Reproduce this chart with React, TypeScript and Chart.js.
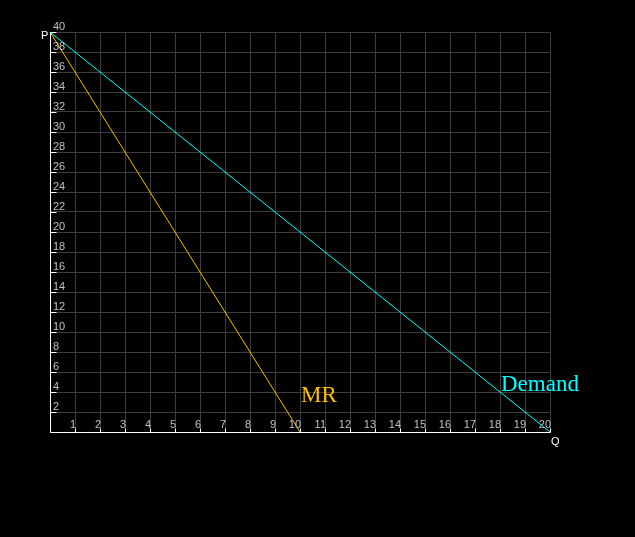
import React, { useEffect, useRef } from "react";
import { Chart, registerables } from "chart.js";

Chart.register(...registerables);

// Data
const demandQ = [0, 20];
const demandP = [40, 0];
const mrQ = [0, 10];
const mrP = [40, 0];
const xTickLabels = [1, 2, 3, 4, 5, 6, 7, 8, 9, 10, 11, 12, 13, 14, 15, 16, 17, 18, 19, 20];
const yTickLabels = [2, 4, 6, 8, 10, 12, 14, 16, 18, 20, 22, 24, 26, 28, 30, 32, 34, 36, 38, 40];
const curveNames = ["MR", "Demand"];

const W = 635;
const H = 537;
const TICK_FONT = '11px "Liberation Sans", Arial, sans-serif';
const NAME_FONT = '23px "Liberation Serif", "Times New Roman", serif';
const MR_COLOR = "#FFBF00";
const DEMAND_COLOR = "#00FFFF";
const GRID_COLOR = "#3c3c3c";

const overlay = {
  id: "overlay",
  beforeDraw(chart: any) {
    const { ctx } = chart;
    ctx.save();
    ctx.fillStyle = "#000";
    ctx.fillRect(0, 0, chart.width, chart.height);
    ctx.restore();
  },
  afterDraw(chart: any) {
    const { ctx } = chart;
    const xs = chart.scales.x;
    const ys = chart.scales.y;
    const x0 = Math.round(xs.getPixelForValue(0)) + 0.5;
    const y0 = Math.round(ys.getPixelForValue(0)) + 0.5;
    const top = Math.round(ys.getPixelForValue(40)) + 0.5;
    const right = Math.round(xs.getPixelForValue(20)) + 0.5;
    ctx.save();
    ctx.strokeStyle = "#FFFFFF";
    ctx.lineWidth = 1;
    ctx.beginPath();
    ctx.moveTo(x0, top);
    ctx.lineTo(x0, y0);
    ctx.lineTo(right, y0);
    ctx.stroke();
    // tick stubs
    ctx.beginPath();
    yTickLabels.forEach((v) => {
      const py = Math.round(ys.getPixelForValue(v)) + 0.5;
      ctx.moveTo(x0, py);
      ctx.lineTo(x0 + 6, py);
    });
    xTickLabels.forEach((v) => {
      const px = Math.round(xs.getPixelForValue(v)) + 0.5;
      ctx.moveTo(px, y0);
      ctx.lineTo(px, y0 - 4);
    });
    ctx.stroke();

    // tick labels
    ctx.font = TICK_FONT;
    ctx.fillStyle = "#C0C0C0";
    ctx.textBaseline = "alphabetic";
    ctx.textAlign = "left";
    yTickLabels.forEach((v) => {
      const py = Math.round(ys.getPixelForValue(v));
      ctx.fillText(String(v), x0 + 2.5, py - 2);
    });
    ctx.textAlign = "right";
    xTickLabels.forEach((v) => {
      const px = Math.round(xs.getPixelForValue(v));
      ctx.fillText(String(v), px + 1, y0 - 4.5);
    });

    // axis names
    ctx.fillStyle = "#FFFFFF";
    ctx.textAlign = "left";
    ctx.fillText("P", x0 - 9.5, top + 6.5);
    ctx.fillText("Q", right + 0.5, y0 + 12);

    // curve names
    ctx.font = NAME_FONT;
    ctx.fillStyle = MR_COLOR;
    ctx.fillText(curveNames[0], xs.getPixelForValue(10) + 1, ys.getPixelForValue(3));
    ctx.fillStyle = DEMAND_COLOR;
    ctx.fillText(curveNames[1], xs.getPixelForValue(18) + 1, ys.getPixelForValue(4.1));
    ctx.restore();
  },
};

export default function App() {
  const ref = useRef<HTMLCanvasElement | null>(null);
  useEffect(() => {
    document.body.style.margin = "0";
    document.body.style.background = "#000";
    if (!ref.current) return;
    const chart = new Chart(ref.current, {
      type: "line",
      data: {
        datasets: [
          {
            label: curveNames[1],
            data: demandQ.map((q, i) => ({ x: q, y: demandP[i] })),
            borderColor: DEMAND_COLOR,
            borderWidth: 1,
            pointRadius: 0,
            fill: false,
          },
          {
            label: curveNames[0],
            data: mrQ.map((q, i) => ({ x: q, y: mrP[i] })),
            borderColor: MR_COLOR,
            borderWidth: 1,
            pointRadius: 0,
            fill: false,
          },
        ],
      },
      options: {
        responsive: false,
        animation: false,
        layout: { padding: { left: 50, top: 32, right: W - 550, bottom: H - 432 } },
        plugins: { legend: { display: false }, tooltip: { enabled: false } },
        scales: {
          x: {
            type: "linear",
            min: 0,
            max: 20,
            ticks: { display: false, stepSize: 1 },
            grid: { color: GRID_COLOR, drawTicks: false, lineWidth: 1 },
            border: { display: false },
          },
          y: {
            type: "linear",
            min: 0,
            max: 40,
            ticks: { display: false, stepSize: 2 },
            grid: { color: GRID_COLOR, drawTicks: false, lineWidth: 1 },
            border: { display: false },
          },
        },
      },
      plugins: [overlay],
    });
    return () => chart.destroy();
  }, []);
  return (
    <div style={{ width: W, height: H, background: "#000" }}>
      <canvas ref={ref} width={W} height={H} style={{ display: "block" }} />
    </div>
  );
}
